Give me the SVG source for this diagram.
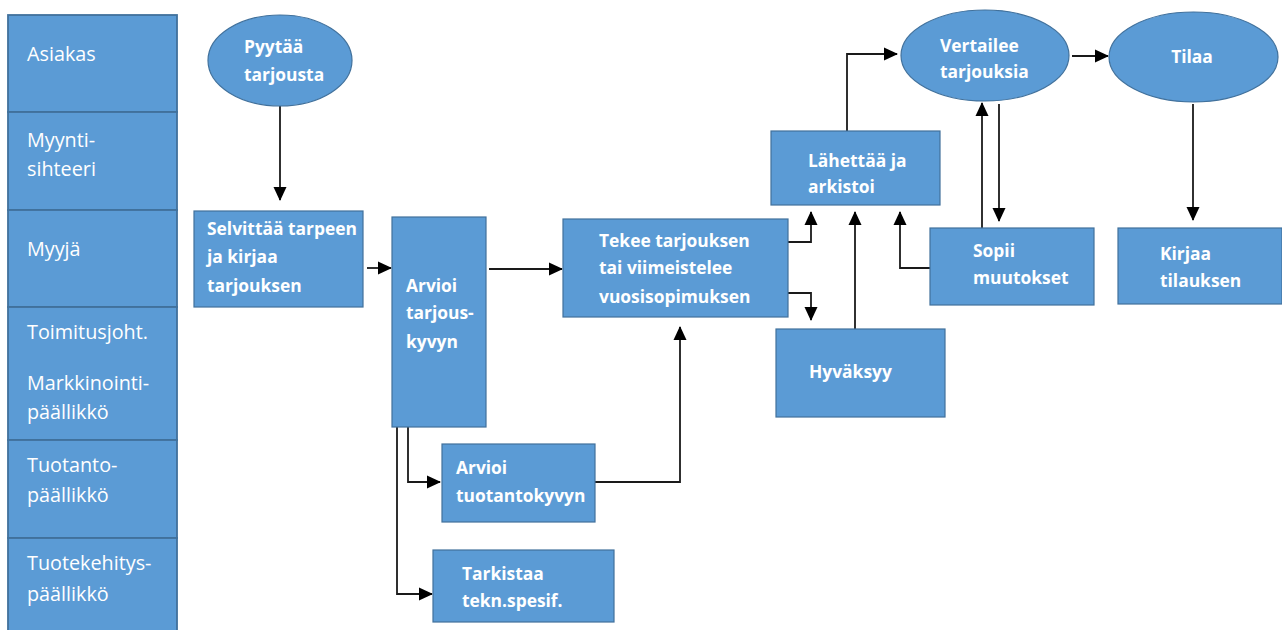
<svg xmlns="http://www.w3.org/2000/svg" width="1282" height="630" viewBox="0 0 1282 630">
  <style>
    .lane { fill: #5B9BD5; stroke: #41719C; stroke-width: 1.8; }
    .node { fill: #5B9BD5; stroke: #41719C; stroke-width: 1.2; }
    .lt { font-family: "Open Sans", "Noto Sans", sans-serif; font-size: 19.8px; fill: #ffffff; }
    .nt { font-family: "Open Sans", "Noto Sans", sans-serif; font-size: 17.4px; font-weight: bold; fill: #ffffff; }
    .conn { fill: none; stroke: #1a1a1a; stroke-width: 1.8; marker-end: url(#ah); }
  </style>
  <defs>
    <marker id="ah" viewBox="0 0 14 14" refX="13" refY="7" markerWidth="14" markerHeight="14" markerUnits="userSpaceOnUse" orient="auto">
      <path d="M0,0.5 L14,7 L0,13.5 Z" fill="#000000"/>
    </marker>
  </defs>
  <rect width="1282" height="630" fill="#ffffff"/>

  <!-- role lanes -->
  <g id="lanes">
    <rect class="lane" x="8" y="15" width="169" height="97"/>
    <rect class="lane" x="8" y="112" width="169" height="98"/>
    <rect class="lane" x="8" y="210" width="169" height="97"/>
    <rect class="lane" x="8" y="307" width="169" height="133"/>
    <rect class="lane" x="8" y="440" width="169" height="98"/>
    <rect class="lane" x="8" y="538" width="169" height="100"/>
    <text class="lt" x="27" y="61">Asiakas</text>
    <text class="lt" x="27" y="147">Myynti-</text>
    <text class="lt" x="27" y="176">sihteeri</text>
    <text class="lt" x="27" y="256">Myyjä</text>
    <text class="lt" x="27" y="339">Toimitusjoht.</text>
    <text class="lt" x="27" y="390">Markkinointi-</text>
    <text class="lt" x="27" y="419">päällikkö</text>
    <text class="lt" x="27" y="472">Tuotanto-</text>
    <text class="lt" x="27" y="502">päällikkö</text>
    <text class="lt" x="27" y="570">Tuotekehitys-</text>
    <text class="lt" x="27" y="601">päällikkö</text>
  </g>

  <!-- connectors -->
  <g id="connectors">
    <path class="conn" d="M280,106 V200"/>
    <path class="conn" d="M367,268 H391"/>
    <path class="conn" d="M489,269 H562"/>
    <path class="conn" d="M408,427 V482 H440"/>
    <path class="conn" d="M397,427 V594 H432"/>
    <path class="conn" d="M595,482 H680 V327"/>
    <path class="conn" d="M788,242 H811 V212"/>
    <path class="conn" d="M788,293 H811 V320"/>
    <path class="conn" d="M855,329 V212"/>
    <path class="conn" d="M847,131 V54 H897"/>
    <path class="conn" d="M930,268 H900 V212"/>
    <path class="conn" d="M982,228 V103"/>
    <path class="conn" d="M999,104 V221"/>
    <path class="conn" d="M1072,56 H1108"/>
    <path class="conn" d="M1193,104 V220"/>
  </g>

  <g id="pyytaa">
    <ellipse class="node" cx="280" cy="60.5" rx="72" ry="45.5"/>
    <text class="nt" x="244" y="53">Pyytää</text>
    <text class="nt" x="244" y="81">tarjousta</text>
  </g>
  <g id="selvittaa">
    <rect class="node" x="194" y="211" width="169" height="96"/>
    <text class="nt" x="207" y="235">Selvittää tarpeen</text>
    <text class="nt" x="207" y="263">ja kirjaa</text>
    <text class="nt" x="207" y="292">tarjouksen</text>
  </g>
  <g id="arvioi-tarjouskyvyn">
    <rect class="node" x="392" y="217" width="94" height="210"/>
    <text class="nt" x="406" y="292">Arvioi</text>
    <text class="nt" x="406" y="319">tarjous-</text>
    <text class="nt" x="406" y="348">kyvyn</text>
  </g>
  <g id="tekee">
    <rect class="node" x="563" y="219" width="225" height="98"/>
    <text class="nt" x="599" y="247">Tekee tarjouksen</text>
    <text class="nt" x="599" y="274">tai viimeistelee</text>
    <text class="nt" x="599" y="303">vuosisopimuksen</text>
  </g>
  <g id="arvioi-tuotantokyvyn">
    <rect class="node" x="442" y="444" width="153" height="78"/>
    <text class="nt" x="456" y="474">Arvioi</text>
    <text class="nt" x="456" y="502">tuotantokyvyn</text>
  </g>
  <g id="tarkistaa">
    <rect class="node" x="433" y="550" width="181" height="72"/>
    <text class="nt" x="462" y="580">Tarkistaa</text>
    <text class="nt" x="462" y="607">tekn.spesif.</text>
  </g>
  <g id="lahettaa">
    <rect class="node" x="771" y="131" width="169" height="74"/>
    <text class="nt" x="808" y="167">Lähettää ja</text>
    <text class="nt" x="808" y="193">arkistoi</text>
  </g>
  <g id="hyvaksyy">
    <rect class="node" x="776" y="329" width="169" height="88"/>
    <text class="nt" x="809" y="378">Hyväksyy</text>
  </g>
  <g id="vertailee">
    <ellipse class="node" cx="985" cy="55.5" rx="84" ry="45.5"/>
    <text class="nt" x="940" y="52">Vertailee</text>
    <text class="nt" x="940" y="78">tarjouksia</text>
  </g>
  <g id="tilaa">
    <ellipse class="node" cx="1193.5" cy="57" rx="84.5" ry="45"/>
    <text class="nt" x="1192" y="63" text-anchor="middle">Tilaa</text>
  </g>
  <g id="sopii">
    <rect class="node" x="930" y="228" width="164" height="77"/>
    <text class="nt" x="973" y="257">Sopii</text>
    <text class="nt" x="973" y="284">muutokset</text>
  </g>
  <g id="kirjaa">
    <rect class="node" x="1118" y="228" width="164" height="76"/>
    <text class="nt" x="1160" y="260">Kirjaa</text>
    <text class="nt" x="1160" y="287">tilauksen</text>
  </g>
</svg>
